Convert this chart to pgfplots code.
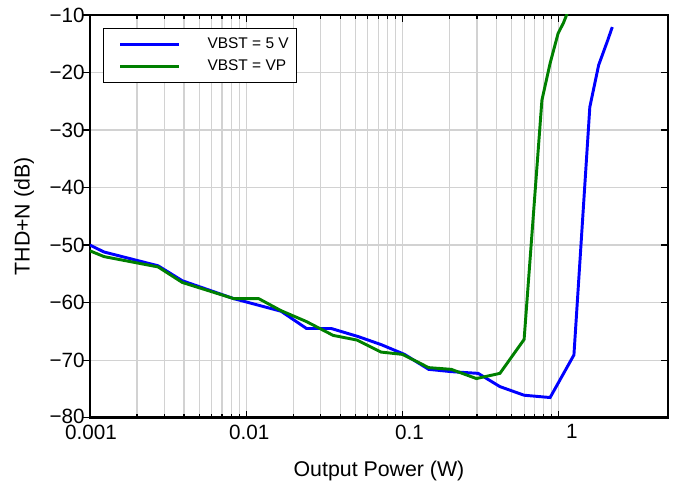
\documentclass[border=0pt]{standalone}
\usepackage{fontspec}
\setmainfont{Liberation Sans}
\usepackage{pgfplots}
\pgfplotsset{compat=1.18}
\usetikzlibrary{calc}
\definecolor{cblue}{RGB}{0,0,255}
\definecolor{cgreen}{RGB}{0,128,0}
\definecolor{gridc}{RGB}{210,210,210}
\begin{document}
\begin{tikzpicture}
\begin{axis}[
  name=main,
  scale only axis,
  width=433.5pt, height=302pt,
  xmode=log,
  xmin=0.001, xmax=5,
  ymin=-80, ymax=-10,
  xtick={0.001,0.01,0.1,1},
  xticklabels={\kern1.5pt 0.001,\kern4.5pt 0.01,\kern10.5pt 0.1,\kern19.5pt 1},
  ytick={-80,-70,-60,-50,-40,-30,-20,-10},
  yticklabels={\raisebox{1.5pt}{−80},−70,−60,−50,−40,−30,−20,−10},
  ytick pos=left,
  y tick style={xshift=-5pt},
  grid=both,
  major grid style={gridc, line width=0.9pt, xshift=0pt},
  minor grid style={gridc, line width=0.9pt},
  axis line style={line width=1.8pt},
  major tick length=5pt,
  minor tick length=3pt,
  tick style={black, line width=0.9pt},
  xlabel={Output Power (W)},
  ylabel={THD+N (dB)},
  every axis x label/.style={at={(rel axis cs:0.5,0)}, anchor=base, yshift=-44pt, font=\fontsize{16}{19}\selectfont},
  every axis y label/.style={at={(rel axis cs:0,0.5)}, xshift=-49.5pt, rotate=90, anchor=center, font=\fontsize{16}{19}\selectfont},
  ticklabel style={font=\fontsize{15.5}{18}\selectfont},
  xticklabel style={yshift=-4.5pt, inner ysep=0.5pt},
  yticklabel style={xshift=-0.5pt, inner ysep=0.5pt},
  legend style={at={(0.0225,0.968)}, anchor=north west, draw=black, line width=0.9pt,
    font=\fontsize{11.6}{14}\selectfont, row sep=0pt, inner xsep=6pt, inner ysep=3.75pt,
    nodes={inner sep=0pt, minimum height=16.5pt},
    /tikz/every odd column/.append style={column sep=20.5pt}},
  legend cell align=left,
  legend image code/.code={\path (0pt,0pt); \draw[#1, line width=2.2pt] (5.25pt,0pt) -- (49.25pt,0pt);},
  clip=true,
]
\addplot[cblue, line width=2.2pt] coordinates {
(0.001,-50.0) (0.00123,-51.2) (0.00273,-53.6) (0.0039,-56.2) (0.0083,-59.3)
(0.0167,-61.5) (0.0243,-64.5) (0.035,-64.5) (0.052,-65.9) (0.073,-67.3)
(0.103,-69.0) (0.147,-71.6) (0.205,-72.0) (0.305,-72.3) (0.42,-74.6)
(0.6,-76.1) (0.88,-76.5) (1.25,-69.1) (1.58,-26.0) (1.8,-18.7) (2.05,-14.5) (2.2,-12.1)
};
\addlegendentry{VBST = 5 V}
\addplot[cgreen, line width=2.2pt] coordinates {
(0.001,-51.0) (0.00123,-52.0) (0.00273,-53.8) (0.0039,-56.5) (0.0083,-59.3)
(0.012,-59.3) (0.0167,-61.4) (0.0243,-63.3) (0.036,-65.7) (0.051,-66.5)
(0.073,-68.6) (0.1,-69.0) (0.147,-71.3) (0.205,-71.6) (0.297,-73.2)
(0.42,-72.3) (0.6,-66.4) (0.78,-24.8) (0.88,-18.4) (0.99,-13.2) (1.07,-11.4) (1.16,-9.0)
};
\addlegendentry{VBST = VP}
\end{axis}
\begin{axis}[
  scale only axis,
  width=433.5pt, height=302pt,
  xmode=log,
  xmin=0.001, xmax=5,
  ymin=-80, ymax=-10,
  hide x axis,
  axis y line*=right,
  axis line style={draw=none},
  ytick={-80,-70,-60,-50,-40,-30,-20,-10},
  yticklabels={},
  tick align=inside,
  major tick length=5pt,
  tick style={black, line width=0.9pt},
]
\end{axis}
\pgfresetboundingbox
\path[use as bounding box] ($(main.south west)+(-67.5pt,-47.25pt)$) rectangle ($(main.north east)+(6pt,11.25pt)$);
\end{tikzpicture}
\end{document}
